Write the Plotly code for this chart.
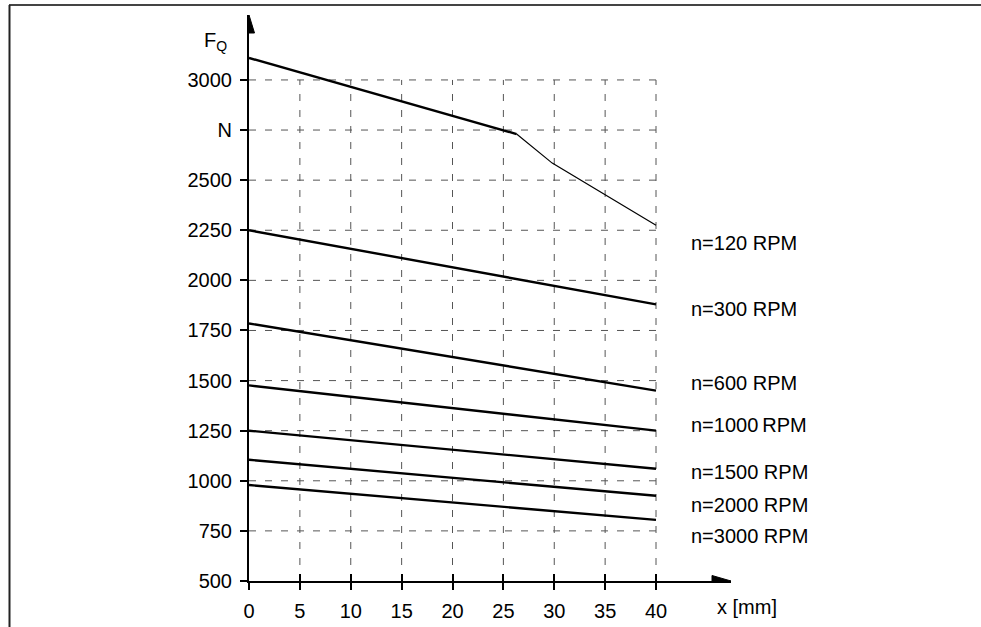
import plotly.graph_objects as go

# ---------------- data ----------------
x_ticks = [0, 5, 10, 15, 20, 25, 30, 35, 40]
y_ticks = [500, 750, 1000, 1250, 1500, 1750, 2000, 2250, 2500, 2750, 3000]
y_ticktext = ["500", "750", "1000", "1250", "1500", "1750", "2000", "2250", "2500", "N", "3000"]

rpm_labels = ["n=120 RPM", "n=300 RPM", "n=600 RPM", "n=1000\u2009RPM",
              "n=1500 RPM", "n=2000 RPM", "n=3000 RPM"]

# n=120 RPM curve: thick straight part then thin bent part
n120_thick_x = [0, 26.3]
n120_thick_y = [3110, 2730]
n120_thin_x = [26.3, 29.8, 40]
n120_thin_y = [2730, 2585, 2275]

# straight lines for the other speeds, value at x=0 and x=40
line_x = [0, 40]
line_start = [2250, 1785, 1476, 1250, 1105, 979]
line_end = [1880, 1450, 1250, 1060, 925, 805]

# vertical placement of the speed labels (in N)
label_y = [2187, 1857, 1488, 1278, 1044, 879, 725]
label_x = 43.2

# ---------------- figure ----------------
W, H = 981, 627
L, R, T, B = 249, 250, 15, 46
x_range = [0, 47.37]
y_range = [500, 3324]
FONT = "Liberation Sans, Arial, sans-serif"
FS = 20

fig = go.Figure()

# grid (limited to the 0..40 / 500..3000 region)
grid_style = dict(color="#555555", width=1, dash="7px,9px")
for xv in x_ticks[1:]:
    fig.add_shape(type="line", xref="x", yref="y", x0=xv, x1=xv,
                  y0=y_ticks[0], y1=y_ticks[-1], line=grid_style, layer="below")
for yv in y_ticks[1:]:
    fig.add_shape(type="line", xref="x", yref="y", x0=x_ticks[0], x1=x_ticks[-1],
                  y0=yv, y1=yv, line=grid_style, layer="below")

# curves
fig.add_trace(go.Scatter(x=n120_thick_x, y=n120_thick_y, mode="lines",
                         line=dict(color="black", width=2.4), showlegend=False))
fig.add_trace(go.Scatter(x=n120_thin_x, y=n120_thin_y, mode="lines",
                         line=dict(color="black", width=1.2), showlegend=False))
for s, e in zip(line_start, line_end):
    fig.add_trace(go.Scatter(x=line_x, y=[s, e], mode="lines",
                             line=dict(color="black", width=2.4), showlegend=False))

# invisible trace for the overlay axis (ticks crossing the x axis)
fig.add_trace(go.Scatter(x=[x_ticks[0]], y=[y_ticks[0]], xaxis="x2", mode="markers",
                         marker=dict(opacity=0), showlegend=False, hoverinfo="skip"))

# speed labels
for txt, ly in zip(rpm_labels, label_y):
    fig.add_annotation(x=label_x, y=ly, xref="x", yref="y", text=txt, showarrow=False,
                       xanchor="left", yanchor="middle",
                       font=dict(family=FONT, size=FS, color="black"))

# axis titles
fig.add_annotation(x=0, y=1, xref="x", yref="paper", text="F<sub>Q</sub>", showarrow=False,
                   xanchor="right", yanchor="top", xshift=-20, yshift=-12,
                   font=dict(family=FONT, size=FS, color="black"))
fig.add_annotation(x=1, y=0, xref="paper", yref="paper", text="x [mm]", showarrow=False,
                   xanchor="center", yanchor="middle", xshift=16, yshift=-26,
                   font=dict(family=FONT, size=FS, color="black"))

# arrow heads
fig.add_shape(type="path", xref="x", yref="y domain", xsizemode="pixel", ysizemode="pixel",
              xanchor=0, yanchor=1, path="M -5.5,-18 L 5.5,-18 L 0,0 Z",
              fillcolor="black", line=dict(color="black", width=1))
fig.add_shape(type="path", xref="x domain", yref="y", xsizemode="pixel", ysizemode="pixel",
              xanchor=1, yanchor=y_ticks[0], path="M -19,-5.5 L -19,5.5 L 0,0 Z",
              fillcolor="black", line=dict(color="black", width=1))

# frame (top and left)
PW, PH = W - L - R, H - T - B
fig.add_shape(type="line", xref="paper", yref="paper", x0=-(L - 9) / PW, x1=(W - L) / PW,
              y0=1 + 10 / PH, y1=1 + 10 / PH,
              line=dict(color="#444444", width=2))
fig.add_shape(type="line", xref="paper", yref="paper", x0=-(L - 9.5) / PW, x1=-(L - 9.5) / PW,
              y0=-(B + 5) / PH, y1=1 + 10 / PH,
              line=dict(color="#222222", width=2))

axis_common = dict(showgrid=False, zeroline=False, automargin=False, fixedrange=True)
fig.update_layout(
    width=W, height=H,
    margin=dict(l=L, r=R, t=T, b=B, autoexpand=False),
    paper_bgcolor="white", plot_bgcolor="white",
    showlegend=False, hovermode=False,
    font=dict(family=FONT, size=FS, color="black"),
    xaxis=dict(range=x_range, tickmode="array", tickvals=x_ticks,
               ticktext=[str(v) for v in x_ticks],
               showline=True, linecolor="black", linewidth=2,
               ticks="outside", ticklen=7, tickwidth=2, tickcolor="black",
               ticklabelstandoff=4, tickfont=dict(family=FONT, size=FS, color="black"),
               anchor="y", **axis_common),
    xaxis2=dict(range=x_range, overlaying="x", side="bottom", anchor="y",
                tickmode="array", tickvals=x_ticks, showticklabels=False,
                showline=False,
                ticks="inside", ticklen=7, tickwidth=2, tickcolor="black", **axis_common),
    yaxis=dict(range=y_range, tickmode="array", tickvals=y_ticks, ticktext=y_ticktext,
               showline=True, linecolor="black", linewidth=2,
               ticks="outside", ticklen=7, tickwidth=2, tickcolor="black",
               ticklabelstandoff=4, tickfont=dict(family=FONT, size=FS, color="black"),
               **axis_common),
)

fig.write_html(
    "out.html",
    config={"displayModeBar": False, "staticPlot": True},
    post_script="document.body.style.margin='0';document.body.style.overflow='hidden';",
)
